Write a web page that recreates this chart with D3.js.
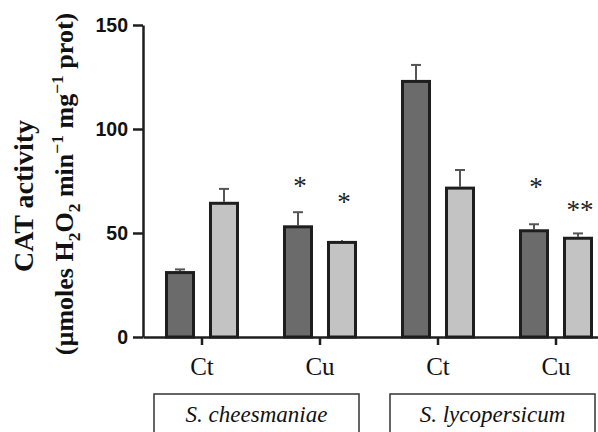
<!DOCTYPE html>
<html>
<head>
<meta charset="utf-8">
<script src="https://cdn.jsdelivr.net/npm/d3@7"></script>
<style>
  body { margin: 0; background: #fff; }
  svg { display: block; }
  .serif { font-family: "Liberation Serif", "Times New Roman", "DejaVu Serif", serif; }
</style>
</head>
<body>
<svg id="chart" width="598" height="432"></svg>
<script>
// values
const treatments = ["Ct", "Cu", "Ct", "Cu"];
const species = ["S. cheesmaniae", "S. lycopersicum"];
const darkMeans = [31.7, 53.7, 123.6, 51.8];
const darkErrors = [0.8, 6.3, 7.2, 2.4];
const lightMeans = [65.0, 46.2, 72.3, 48.2];
const lightErrors = [6.2, 0.4, 8.0, 1.6];
const darkStars = ["", "*", "", "*"];
const lightStars = ["", "*", "", "**"];
const darkStarLevel = [null, 75, null, 74.5];
const lightStarLevel = [null, 67.3, null, 63.5];
const yTicks = [0, 50, 100, 150];

const colors = {dark: "#6b6b6b", light: "#c3c3c3", stroke: "#1e1e1e", err: "#555"};

const svg = d3.select("#chart");

const y = d3.scaleLinear().domain([0, 150]).range([337, 25]);

const x = d3.scaleBand()
    .domain(d3.range(treatments.length))
    .range([143, 615])
    .padding(0);

const sub = d3.scaleBand()
    .domain(["dark", "light"])
    .range([0, x.bandwidth()])
    .paddingInner(0.318)
    .paddingOuter(0.5);

const bars = [];
treatments.forEach((t, i) => {
  bars.push({i, key: "dark", v: darkMeans[i], e: darkErrors[i], star: darkStars[i], level: darkStarLevel[i]});
  bars.push({i, key: "light", v: lightMeans[i], e: lightErrors[i], star: lightStars[i], level: lightStarLevel[i]});
});

const bx = d => x(d.i) + sub(d.key);
const bw = sub.bandwidth();

// error bars
const eg = svg.append("g").attr("stroke", colors.err).attr("stroke-width", 2);
eg.selectAll(".stem").data(bars).join("line")
    .attr("x1", d => bx(d) + bw / 2).attr("x2", d => bx(d) + bw / 2)
    .attr("y1", d => y(d.v)).attr("y2", d => y(d.v + d.e));
eg.selectAll(".cap").data(bars.filter(d => d.e > 0.6)).join("line")
    .attr("x1", d => bx(d) + bw / 2 - 5).attr("x2", d => bx(d) + bw / 2 + 5)
    .attr("y1", d => y(d.v + d.e)).attr("y2", d => y(d.v + d.e));

// bars
svg.append("g").selectAll("rect").data(bars).join("rect")
    .attr("x", d => bx(d) + 1.5)
    .attr("width", bw - 3)
    .attr("y", d => y(d.v) + 1.5)
    .attr("height", d => y(0) - y(d.v) - 1.5)
    .attr("fill", d => colors[d.key])
    .attr("stroke", colors.stroke)
    .attr("stroke-width", 3);

// significance stars
svg.append("g").selectAll("text").data(bars.filter(d => d.star)).join("text")
    .attr("class", "serif")
    .attr("x", d => bx(d) + bw / 2 + 2)
    .attr("y", d => y(d.level) + 14)
    .attr("text-anchor", "middle")
    .attr("font-size", 27)
    .attr("fill", "#222")
    .text(d => d.star);

// y axis
const yAxis = svg.append("g")
    .attr("transform", "translate(143,0)")
    .call(d3.axisLeft(y).tickValues(yTicks).tickSize(10).tickSizeOuter(0).tickPadding(5));
yAxis.select(".domain").attr("stroke", colors.stroke).attr("stroke-width", 2.5);
yAxis.selectAll(".tick line").attr("stroke", colors.stroke).attr("stroke-width", 2.5);
yAxis.selectAll(".tick text")
    .attr("font-family", "'Liberation Sans', Arial, sans-serif")
    .attr("font-weight", "bold")
    .attr("font-size", 19.5)
    .attr("fill", "#111");

// x axis
const xAxis = svg.append("g")
    .attr("transform", "translate(0,337)")
    .call(d3.axisBottom(x).tickSize(8).tickSizeOuter(0).tickFormat(i => treatments[i]));
xAxis.select(".domain").attr("stroke", colors.stroke).attr("stroke-width", 2.5);
xAxis.selectAll(".tick line").attr("stroke", colors.stroke).attr("stroke-width", 2.5);
xAxis.selectAll(".tick text")
    .attr("class", "serif")
    .attr("font-family", null)
    .attr("font-size", 25)
    .attr("fill", "#111")
    .attr("y", 38)
    .attr("dy", null);

// species boxes
const boxes = species.map((s, k) => ({
  name: s,
  x0: x(2 * k) + x.bandwidth() / 2 - 48,
  x1: x(2 * k + 1) + x.bandwidth() / 2 + 39
}));
const bg = svg.append("g");
bg.selectAll("rect").data(boxes).join("rect")
    .attr("x", d => d.x0).attr("y", 394)
    .attr("width", d => d.x1 - d.x0).attr("height", 60)
    .attr("fill", "none").attr("stroke", "#333").attr("stroke-width", 1.5);
bg.selectAll("text").data(boxes).join("text")
    .attr("font-family", "'Liberation Serif', 'Times New Roman', serif")
    .attr("x", d => (d.x0 + d.x1) / 2)
    .attr("y", 422)
    .attr("text-anchor", "middle")
    .attr("font-style", "italic")
    .attr("font-size", 23)
    .attr("fill", "#111")
    .text(d => d.name);

// y title
svg.append("text")
    .attr("class", "serif")
    .attr("transform", "translate(33,196) rotate(-90)")
    .attr("text-anchor", "middle")
    .attr("font-weight", "bold")
    .attr("font-size", 28)
    .attr("fill", "#111")
    .text("CAT activity");

const t2 = svg.append("text")
    .attr("class", "serif")
    .attr("transform", "translate(73,184) rotate(-90)")
    .attr("text-anchor", "middle")
    .attr("font-weight", "bold")
    .attr("font-size", 26)
    .attr("fill", "#111");
const parts = [
  ["(µmoles H", 0], ["2", 7], ["O", -7], ["2", 7], [" min", -7], ["−1", -10],
  [" mg", 10], ["−1", -10], [" prot)", 10]
];
parts.forEach(([txt, shift]) => {
  const small = txt === "2" || txt === "−1";
  t2.append("tspan")
      .attr("dy", shift)
      .attr("font-size", small ? 17.5 : 26)
      .text(txt);
});
</script>
</body>
</html>
